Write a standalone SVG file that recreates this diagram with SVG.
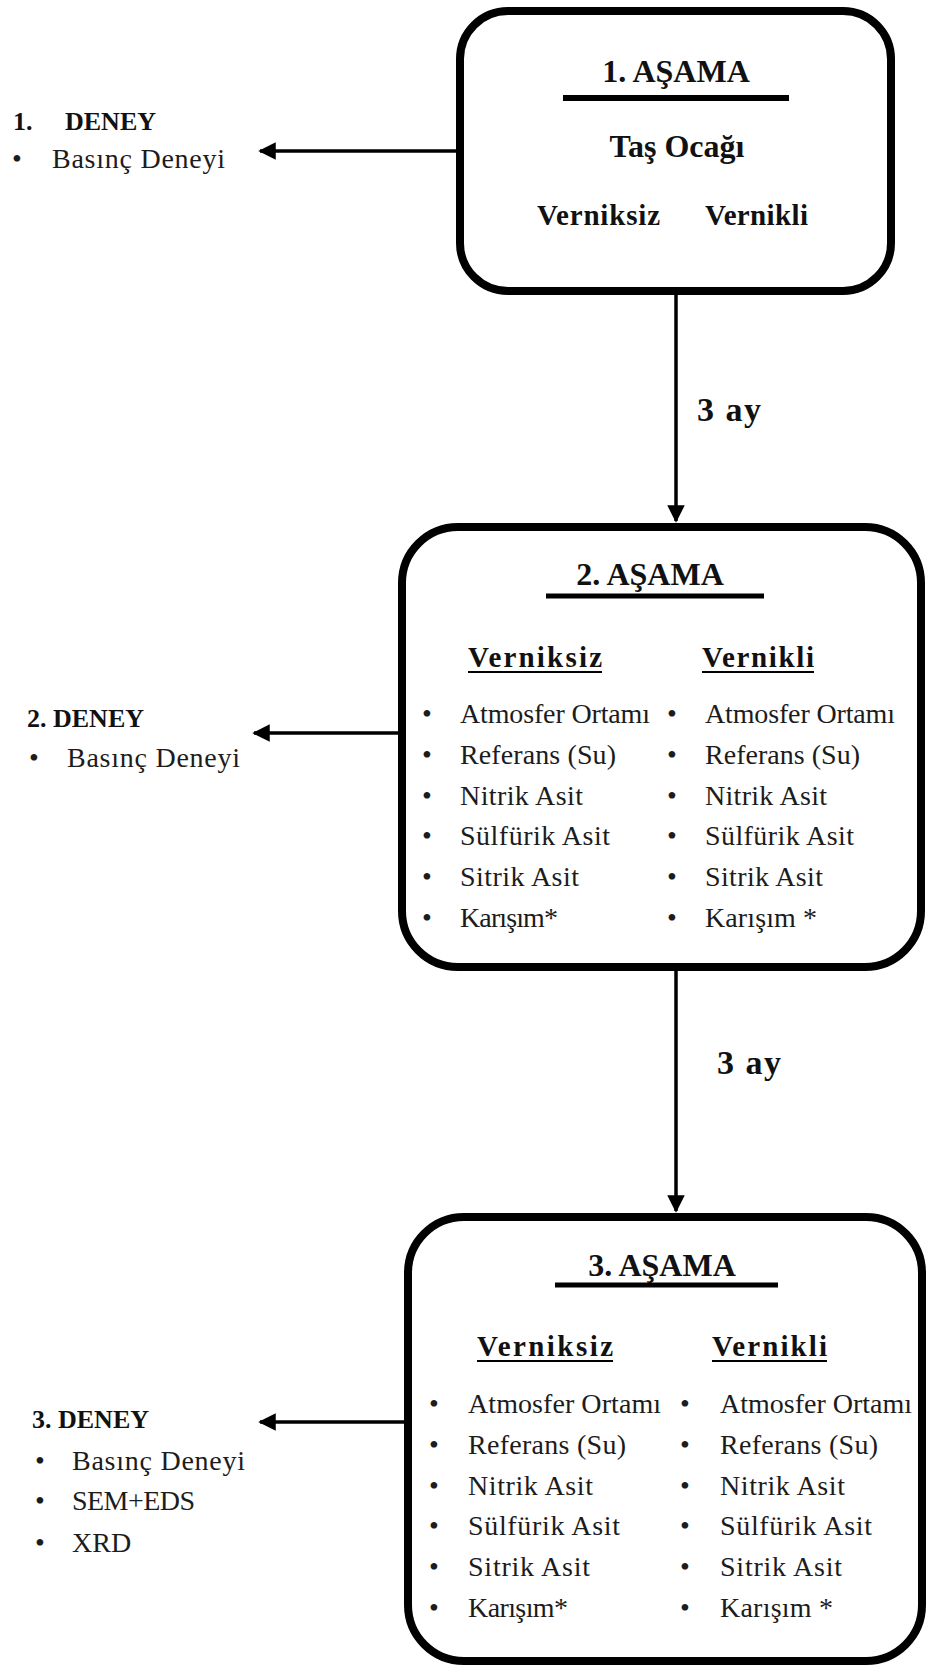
<svg xmlns="http://www.w3.org/2000/svg" width="932" height="1670" viewBox="0 0 932 1670">
<defs>
<style>
.box{fill:#fff;stroke:#000;stroke-width:8}
.t{font-family:"Liberation Serif","Times New Roman",serif;fill:#111}
.title{font-size:32px;font-weight:bold}
.hd{font-size:29px;font-weight:bold}
.it{font-size:28px;fill:#1c1c1c}
.lbl{font-size:26px;font-weight:bold}
.ay{font-size:34px;font-weight:bold}
.ul{stroke:#000}
.conn{stroke:#000;stroke-width:3.5;fill:none}
</style>
<marker id="ah" viewBox="0 0 10 10" refX="9" refY="5" markerWidth="5" markerHeight="5" markerUnits="strokeWidth" orient="auto">
<path d="M0,0 L10,5 L0,10 z" fill="#000"/>
</marker>
</defs>
<rect width="932" height="1670" fill="#fff"/>

<g id="connectors">
<line class="conn" x1="460" y1="151" x2="260" y2="151" marker-end="url(#ah)"/>
<line class="conn" x1="676" y1="291" x2="676" y2="521" marker-end="url(#ah)"/>
<line class="conn" x1="402" y1="733" x2="254" y2="733" marker-end="url(#ah)"/>
<line class="conn" x1="676" y1="967" x2="676" y2="1211" marker-end="url(#ah)"/>
<line class="conn" x1="408" y1="1422" x2="260" y2="1422" marker-end="url(#ah)"/>
<text class="t ay" x="697" y="421" textLength="64" lengthAdjust="spacing">3 ay</text>
<text class="t ay" x="717" y="1074" textLength="64" lengthAdjust="spacing">3 ay</text>
</g>

<g id="stage1">
<rect class="box" x="460" y="11" width="431" height="280" rx="48" ry="48"/>
<text class="t title" x="676" y="82" text-anchor="middle">1. AŞAMA</text>
<line class="ul" x1="563" y1="98" x2="789" y2="98" stroke-width="6"/>
<text class="t title" x="677" y="157" text-anchor="middle">Taş Ocağı</text>
<text class="t hd" x="537" y="225" textLength="123" lengthAdjust="spacing">Verniksiz</text>
<text class="t hd" x="705" y="225" textLength="103" lengthAdjust="spacing">Vernikli</text>
</g>

<g id="test1">
<text class="t lbl" x="13" y="130">1.</text>
<text class="t lbl" x="65" y="130">DENEY</text>
<text class="t it" x="12" y="168">•</text>
<text class="t it" x="52" y="168" textLength="173" lengthAdjust="spacing">Basınç Deneyi</text>
</g>

<g id="stage2">
<rect class="box" x="402" y="527" width="519" height="440" rx="56" ry="56"/>
<text class="t title" x="650" y="585" text-anchor="middle">2. AŞAMA</text>
<line class="ul" x1="546" y1="596" x2="764" y2="596" stroke-width="5"/>
<text class="t hd" x="468" y="667" textLength="134" lengthAdjust="spacing">Verniksiz</text>
<line class="ul" x1="468" y1="672" x2="602" y2="672" stroke-width="2"/>
<text class="t hd" x="702" y="667" textLength="112" lengthAdjust="spacing">Vernikli</text>
<line class="ul" x1="702" y1="672" x2="814" y2="672" stroke-width="2"/>
<g class="t it">
<text x="422" y="723">•</text><text x="460" y="723" textLength="190" lengthAdjust="spacing">Atmosfer Ortamı</text>
<text x="422" y="764">•</text><text x="460" y="764" textLength="156" lengthAdjust="spacing">Referans (Su)</text>
<text x="422" y="805">•</text><text x="460" y="805" textLength="123" lengthAdjust="spacing">Nitrik Asit</text>
<text x="422" y="845">•</text><text x="460" y="845" textLength="150" lengthAdjust="spacing">Sülfürik Asit</text>
<text x="422" y="886">•</text><text x="460" y="886" textLength="119" lengthAdjust="spacing">Sitrik Asit</text>
<text x="422" y="927">•</text><text x="460" y="927" textLength="98" lengthAdjust="spacing">Karışım*</text>
<text x="667" y="723">•</text><text x="705" y="723" textLength="190" lengthAdjust="spacing">Atmosfer Ortamı</text>
<text x="667" y="764">•</text><text x="705" y="764" textLength="155" lengthAdjust="spacing">Referans (Su)</text>
<text x="667" y="805">•</text><text x="705" y="805" textLength="122" lengthAdjust="spacing">Nitrik Asit</text>
<text x="667" y="845">•</text><text x="705" y="845" textLength="149" lengthAdjust="spacing">Sülfürik Asit</text>
<text x="667" y="886">•</text><text x="705" y="886" textLength="118" lengthAdjust="spacing">Sitrik Asit</text>
<text x="667" y="927">•</text><text x="705" y="927" textLength="112" lengthAdjust="spacing">Karışım *</text>
</g>
</g>

<g id="test2">
<text class="t lbl" x="27" y="727">2. DENEY</text>
<text class="t it" x="29" y="767">•</text>
<text class="t it" x="67" y="767" textLength="173" lengthAdjust="spacing">Basınç Deneyi</text>
</g>

<g id="stage3">
<rect class="box" x="408" y="1217" width="514" height="444" rx="56" ry="56"/>
<text class="t title" x="662" y="1276" text-anchor="middle">3. AŞAMA</text>
<line class="ul" x1="555" y1="1285" x2="778" y2="1285" stroke-width="5"/>
<text class="t hd" x="477" y="1356" textLength="136" lengthAdjust="spacing">Verniksiz</text>
<line class="ul" x1="477" y1="1361" x2="613" y2="1361" stroke-width="2"/>
<text class="t hd" x="712" y="1356" textLength="115" lengthAdjust="spacing">Vernikli</text>
<line class="ul" x1="712" y1="1361" x2="827" y2="1361" stroke-width="2"/>
<g class="t it">
<text x="429" y="1413">•</text><text x="468" y="1413" textLength="193" lengthAdjust="spacing">Atmosfer Ortamı</text>
<text x="429" y="1454">•</text><text x="468" y="1454" textLength="158" lengthAdjust="spacing">Referans (Su)</text>
<text x="429" y="1495">•</text><text x="468" y="1495" textLength="125" lengthAdjust="spacing">Nitrik Asit</text>
<text x="429" y="1535">•</text><text x="468" y="1535" textLength="152" lengthAdjust="spacing">Sülfürik Asit</text>
<text x="429" y="1576">•</text><text x="468" y="1576" textLength="122" lengthAdjust="spacing">Sitrik Asit</text>
<text x="429" y="1617">•</text><text x="468" y="1617" textLength="100" lengthAdjust="spacing">Karışım*</text>
<text x="680" y="1413">•</text><text x="720" y="1413" textLength="192" lengthAdjust="spacing">Atmosfer Ortamı</text>
<text x="680" y="1454">•</text><text x="720" y="1454" textLength="158" lengthAdjust="spacing">Referans (Su)</text>
<text x="680" y="1495">•</text><text x="720" y="1495" textLength="125" lengthAdjust="spacing">Nitrik Asit</text>
<text x="680" y="1535">•</text><text x="720" y="1535" textLength="152" lengthAdjust="spacing">Sülfürik Asit</text>
<text x="680" y="1576">•</text><text x="720" y="1576" textLength="122" lengthAdjust="spacing">Sitrik Asit</text>
<text x="680" y="1617">•</text><text x="720" y="1617" textLength="113" lengthAdjust="spacing">Karışım *</text>
</g>
</g>

<g id="test3">
<text class="t lbl" x="32" y="1428">3. DENEY</text>
<text class="t it" x="35" y="1470">•</text>
<text class="t it" x="72" y="1470" textLength="173" lengthAdjust="spacing">Basınç Deneyi</text>
<text class="t it" x="35" y="1510">•</text>
<text class="t it" x="72" y="1510" textLength="123" lengthAdjust="spacing">SEM+EDS</text>
<text class="t it" x="35" y="1552">•</text>
<text class="t it" x="72" y="1552">XRD</text>
</g>
</svg>
